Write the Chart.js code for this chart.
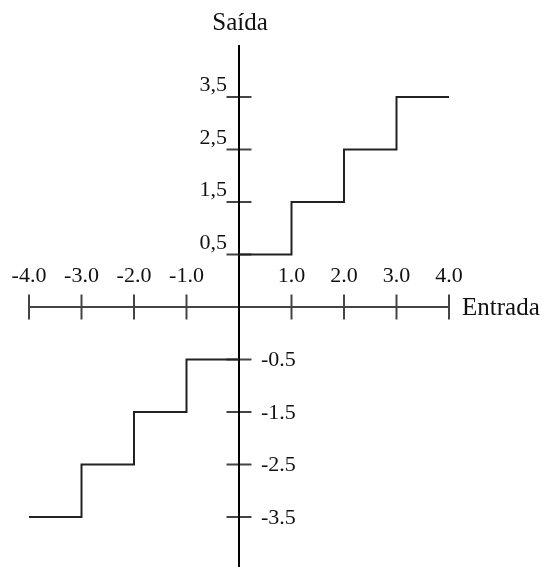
<!DOCTYPE html>
<html>
<head>
<meta charset="utf-8">
<script src="https://cdn.jsdelivr.net/npm/chart.js@4"></script>
<style>
  body { margin: 0; background: #fff; }
  canvas { display: block; }
</style>
</head>
<body>
<canvas id="myChart" width="542" height="567"></canvas>
<script>
// quantizer levels, top to bottom (the y axis is a category axis)
var yLabels = ['3,5', '2,5', '1,5', '0,5', '0', '-0.5', '-1.5', '-2.5', '-3.5'];
var xTicks = [-4, -3, -2, -1, 1, 2, 3, 4];
var xTickLabels = ['-4.0', '-3.0', '-2.0', '-1.0', '1.0', '2.0', '3.0', '4.0'];

// positive half of the staircase
var upperX = [0, 1, 2, 3, 4];
var upperY = ['0,5', '1,5', '2,5', '3,5', '3,5'];
// negative half
var lowerX = [-4, -3, -2, -1, 0];
var lowerY = ['-3.5', '-2.5', '-1.5', '-0.5', '-0.5'];

var serif = "'Liberation Serif', 'Times New Roman', serif";

function toPoints(xs, ys) {
    return xs.map(function (x, i) { return { x: x, y: ys[i] }; });
}

var axesPlugin = {
    id: 'axes',
    beforeDatasetsDraw: function (chart) {
        var ctx = chart.ctx;
        var xs = chart.scales.x, ys = chart.scales.y;
        var x0 = xs.getPixelForValue(0);
        var y0 = ys.getPixelForValue(yLabels.indexOf('0'));
        var step = ys.getPixelForValue(1) - ys.getPixelForValue(0);
        var tick = 12.5;

        ctx.save();
        ctx.lineWidth = 2;

        // x axis with ticks crossing it
        ctx.strokeStyle = '#444';
        ctx.beginPath();
        ctx.moveTo(xs.getPixelForValue(-4), y0);
        ctx.lineTo(xs.getPixelForValue(4), y0);
        xTicks.forEach(function (v) {
            var px = xs.getPixelForValue(v);
            ctx.moveTo(px, y0 - tick);
            ctx.lineTo(px, y0 + tick);
        });
        // y ticks
        yLabels.forEach(function (lab, i) {
            if (lab === '0') return;
            var py = ys.getPixelForValue(i);
            ctx.moveTo(x0 - tick, py);
            ctx.lineTo(x0 + tick, py);
        });
        ctx.stroke();

        // y axis
        ctx.strokeStyle = '#000';
        ctx.beginPath();
        ctx.moveTo(x0, ys.getPixelForValue(0) - step * 0.99);
        ctx.lineTo(x0, chart.height);
        ctx.stroke();

        // labels
        ctx.fillStyle = '#111';
        ctx.font = '22px ' + serif;
        ctx.textAlign = 'center';
        ctx.textBaseline = 'alphabetic';
        xTicks.forEach(function (v, i) {
            ctx.fillText(xTickLabels[i], xs.getPixelForValue(v), y0 - 25);
        });
        yLabels.forEach(function (lab, i) {
            if (lab === '0') return;
            var py = ys.getPixelForValue(i);
            if (i < yLabels.indexOf('0')) {
                ctx.textAlign = 'right';
                ctx.textBaseline = 'alphabetic';
                ctx.fillText(lab, x0 - 12, py - 6);
            } else {
                ctx.textAlign = 'left';
                ctx.textBaseline = 'middle';
                ctx.fillText(lab, x0 + 22, py + 1);
            }
        });

        ctx.font = '25px ' + serif;
        ctx.textAlign = 'left';
        ctx.textBaseline = 'middle';
        ctx.fillText('Entrada', xs.getPixelForValue(4) + 13, y0 + 1);
        ctx.textAlign = 'center';
        ctx.textBaseline = 'alphabetic';
        ctx.fillText('Saída', x0 + 1, 30);
        ctx.restore();
    }
};

var ctx = document.getElementById('myChart').getContext('2d');
var myChart = new Chart(ctx, {
    type: 'line',
    data: {
        datasets: [{
            label: 'positive',
            data: toPoints(upperX, upperY),
            stepped: true,
            borderColor: '#222',
            borderWidth: 2,
            pointRadius: 0,
            fill: false
        }, {
            label: 'negative',
            data: toPoints(lowerX, lowerY),
            stepped: true,
            borderColor: '#222',
            borderWidth: 2,
            pointRadius: 0,
            fill: false
        }]
    },
    options: {
        responsive: false,
        animation: false,
        layout: {
            padding: { left: 29, right: 93, top: 97, bottom: 50 }
        },
        plugins: {
            legend: { display: false },
            tooltip: { enabled: false }
        },
        scales: {
            x: { type: 'linear', min: -4, max: 4, display: false },
            y: { type: 'category', labels: yLabels, display: false }
        }
    },
    plugins: [axesPlugin]
});
</script>
</body>
</html>
